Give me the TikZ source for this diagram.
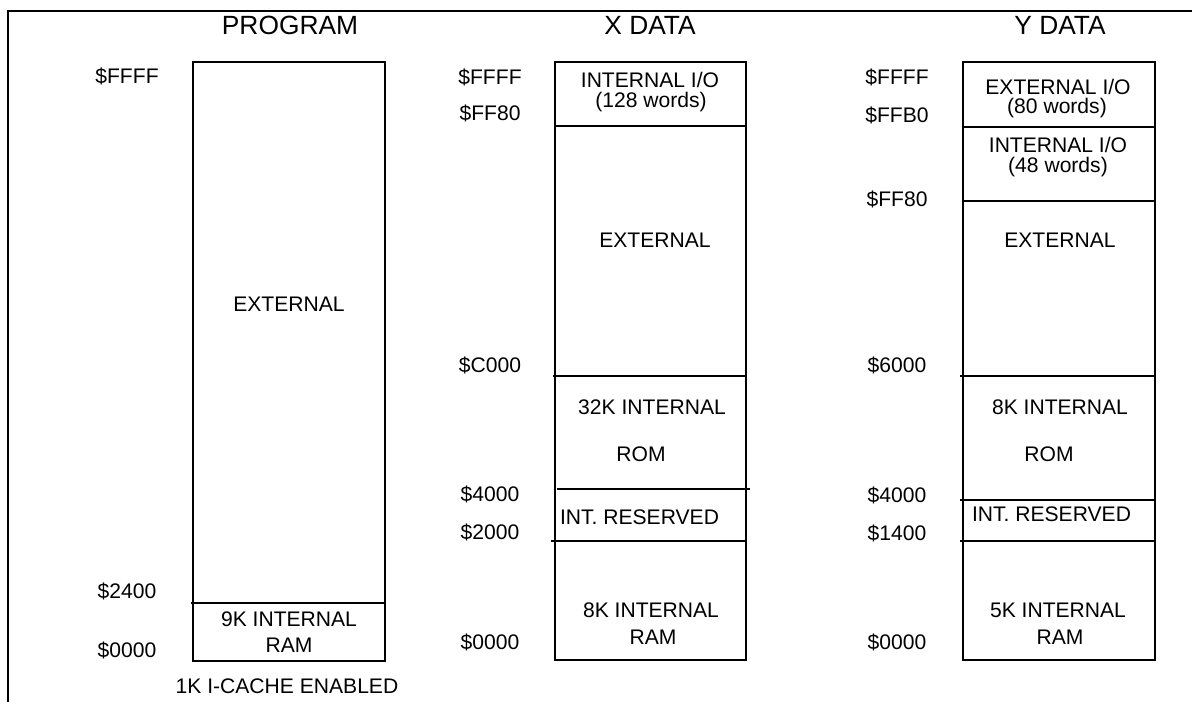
\documentclass[tikz,border=0pt]{standalone}
\usepackage{fontspec}
\setmainfont{Liberation Sans}

\begin{document}
\begin{tikzpicture}[x=0.02cm,y=-0.02cm,line width=1.2pt,
        txt/.style={inner sep=0pt,text height=0.716em,text depth=0pt,font=\fontsize{12}{14}\selectfont},
        addr/.style={txt},
        head/.style={txt,font=\fontsize{15}{18}\selectfont}]
        \useasboundingbox (0,0) rectangle (1192,702);
        \draw (1192,11) -- (8,11) -- (8,702);

        \node[head]         (phead)  at (290,28)  {PROGRAM};
        \node[addr]         (pffff)  at (127,77)  {\$FFFF};
        \node[addr]         (p2400)  at (127,592) {\$2400};
        \node[addr]         (p0000)  at (127,651) {\$0000};
        \draw (193,62) rectangle (385,661);
        \draw (191,603) -- (385,603);
        \node[txt]          (pext)   at (289,305) {EXTERNAL};
        \node[txt]          (pram)   at (289,620) {9K INTERNAL};
        \node[txt]          (pram2)  at (289,646) {RAM};
        \node[txt]          (pcache) at (287,687) {1K I-CACHE ENABLED};

        \node[head]         (xhead)  at (650,28)  {X DATA};
        \node[addr]         (xffff)  at (490,78)  {\$FFFF};
        \node[addr]         (xff80)  at (490,114) {\$FF80};
        \node[addr]         (xc000)  at (490,366) {\$C000};
        \node[addr]         (x4000)  at (490,495) {\$4000};
        \node[addr]         (x2000)  at (490,533) {\$2000};
        \node[addr]         (x0000)  at (490,643) {\$0000};
        \draw (555,62) rectangle (746,660);
        \draw (555,126) -- (746,126);
        \draw (553,376) -- (746,376);
        \draw (557,489) -- (750,489);
        \draw (551,541) -- (746,541);
        \node[txt]          (xio)    at (650,81)  {INTERNAL I/O};
        \node[txt]          (xio2)   at (651,101) {(128 words)};
        \node[txt]          (xext)   at (655,241) {EXTERNAL};
        \node[txt]          (xrom)   at (652,408) {32K INTERNAL};
        \node[txt]          (xrom2)  at (641,455) {ROM};
        \node[txt,anchor=west] (xres) at (559,518) {INT. RESERVED};
        \node[txt]          (xram)   at (651,611) {8K INTERNAL};
        \node[txt]          (xram2)  at (653,638) {RAM};

        \node[head]         (yhead)  at (1060,28) {Y DATA};
        \node[addr]         (yffff)  at (897,78)  {\$FFFF};
        \node[addr]         (yffb0)  at (897,116) {\$FFB0};
        \node[addr]         (yff80)  at (897,200) {\$FF80};
        \node[addr]         (y6000)  at (897,366) {\$6000};
        \node[addr]         (y4000)  at (897,496) {\$4000};
        \node[addr]         (y1400)  at (897,534) {\$1400};
        \node[addr]         (y0000)  at (897,643) {\$0000};
        \draw (963,62) rectangle (1155,660);
        \draw (963,127) -- (1155,127);
        \draw (963,201) -- (1155,201);
        \draw (960,376) -- (1155,376);
        \draw (960,500) -- (1155,500);
        \draw (960,541) -- (1155,541);
        \node[txt]          (yeio)   at (1058,88)  {EXTERNAL I/O};
        \node[txt]          (yeio2)  at (1057,107) {(80 words)};
        \node[txt]          (yiio)   at (1058,146) {INTERNAL I/O};
        \node[txt]          (yiio2)  at (1058,166) {(48 words)};
        \node[txt]          (yext)   at (1060,241) {EXTERNAL};
        \node[txt]          (yrom)   at (1060,408) {8K INTERNAL};
        \node[txt]          (yrom2)  at (1049,455) {ROM};
        \node[txt,anchor=west] (yres) at (971,515) {INT. RESERVED};
        \node[txt]          (yram)   at (1058,611) {5K INTERNAL};
        \node[txt]          (yram2)  at (1060,638) {RAM};
\end{tikzpicture}
\end{document}
